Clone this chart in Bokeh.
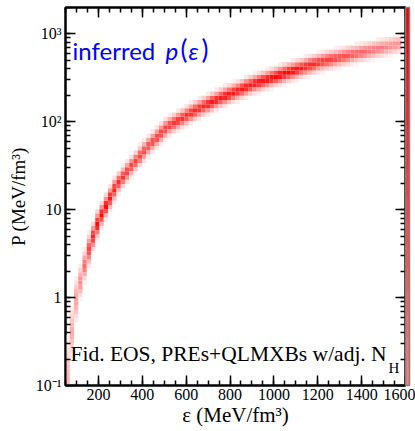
import numpy as np
from bokeh.plotting import figure
from bokeh.models import (FixedTicker, LogTicker, LinearAxis, LogAxis, Label,
                          ColorBar, LinearColorMapper, ColumnDataSource, CustomJSTickFormatter)
from bokeh.embed import file_html
from bokeh.resources import INLINE

# ---- data ----
# centre of the inferred band: energy density (MeV/fm^3) -> log10 P (MeV/fm^3)
band_eps = [55, 73, 100, 130, 164, 202, 240, 285, 346, 422, 513, 635, 756, 907, 1060, 1212, 1363, 1545, 1600]
band_logp = [-1.05, -0.5, 0.0, 0.3, 0.61, 0.88, 1.07, 1.29, 1.48, 1.71, 1.94, 2.12, 2.27, 2.43, 2.56, 2.68, 2.77, 2.87, 2.90]
# relative darkness of the band ridge along the curve
peak_eps = [55, 95, 126, 164, 202, 240, 285, 346, 422, 513, 635, 725, 800, 907, 1060, 1212, 1363, 1545, 1580]
peak_val = [0.30, 0.35, 0.50, 0.80, 1.00, 0.95, 0.85, 0.75, 0.72, 0.78, 0.85, 0.90, 0.92, 0.92, 1.00, 0.80, 0.65, 0.45, 0.40]
band_width_logp = 0.055    # vertical half width of the band (decades)
band_width_eps = 8.0       # horizontal half width of the band (MeV/fm^3)
x_ticks = [200, 400, 600, 800, 1000, 1200, 1400, 1600]
y_tick_labels = {0.1: "10⁻¹", 1: "1", 10: "10", 100: "10²", 1000: "10³"}

# ---- histogram grid ----
x_edges = np.linspace(50, 1600, 81)
y_edges = np.linspace(-1.0, 3.3, 91)
xl, xr, yb, yt, cols = [], [], [], [], []
for i in range(len(x_edges) - 1):
    xc = 0.5 * (x_edges[i] + x_edges[i + 1])
    if xc > 1580:
        continue
    c = np.interp(xc, band_eps, band_logp)
    slope = (np.interp(xc + 5, band_eps, band_logp) - np.interp(xc - 5, band_eps, band_logp)) / 10.0
    sig = np.hypot(band_width_logp, slope * band_width_eps)
    pk = np.interp(xc, peak_eps, peak_val)
    for j in range(len(y_edges) - 1):
        yc = 0.5 * (y_edges[j] + y_edges[j + 1])
        t = pk * np.exp(-0.5 * ((yc - c) / sig) ** 2)
        if t < 0.05:
            continue
        g = int(round(255 * (1 - t)))
        xl.append(x_edges[i]); xr.append(x_edges[i + 1])
        yb.append(10 ** y_edges[j]); yt.append(10 ** y_edges[j + 1])
        cols.append("#ff%02x%02x" % (g, g))

src = ColumnDataSource(dict(left=xl, right=xr, bottom=yb, top=yt, color=cols))

p = figure(frame_width=340, frame_height=378, x_range=(50, 1600), y_range=(0.1, 2000),
           y_axis_type="log", output_backend="svg", toolbar_location=None,
           min_border_left=65, min_border_right=10, min_border_top=7, min_border_bottom=46)
p.quad(left="left", right="right", bottom="bottom", top="top", fill_color="color",
       line_color=None, source=src)

p.grid.visible = False
p.outline_line_color = "black"
p.outline_line_width = 2
p.background_fill_color = "white"
p.border_fill_color = "white"

xt = FixedTicker(ticks=x_ticks, minor_ticks=list(range(50, 1601, 50)))
yt_ = LogTicker(num_minor_ticks=10)
blank = CustomJSTickFormatter(code="return '';")

def style(ax):
    ax.axis_line_color = "black"
    ax.axis_line_width = 2
    ax.major_tick_in = 10
    ax.major_tick_out = 0
    ax.minor_tick_in = 5
    ax.minor_tick_out = 0
    ax.major_tick_line_width = 1.5
    ax.minor_tick_line_width = 1.5
    ax.major_label_text_font = "Liberation Serif"
    ax.major_label_text_font_size = "16px"
    ax.major_label_text_color = "black"
    ax.axis_label_text_font = "Liberation Serif"
    ax.axis_label_text_font_style = "normal"
    ax.axis_label_text_color = "black"

xa = p.xaxis[0]
xa.ticker = xt
style(xa)
xa.major_label_standoff = 3
xa.axis_label = "ε (MeV/fm³)"
xa.axis_label_text_font_size = "21px"
xa.axis_label_standoff = 0

ya = p.yaxis[0]
ya.ticker = yt_
style(ya)
ya.major_label_overrides = y_tick_labels
ya.major_label_standoff = 4
ya.axis_label = "P (MeV/fm³)"
ya.axis_label_text_font_size = "19px"
ya.axis_label_standoff = 4

top = LinearAxis(ticker=xt, formatter=blank)
style(top)
top.major_label_standoff = 0
p.add_layout(top, "above")
right = LogAxis(ticker=yt_, formatter=blank)
style(right)
right.major_label_standoff = 0
p.add_layout(right, "right")

mapper = LinearColorMapper(palette=["#ff%02x%02x" % (v, v) for v in range(120, -1, -8)], low=0, high=1)
cb = ColorBar(color_mapper=mapper, width=4, padding=0, margin=4,
              ticker=FixedTicker(ticks=[]), bar_line_color="gray", bar_line_width=1.5,
              major_tick_line_color=None, minor_tick_line_color=None,
              border_line_color=None, background_fill_alpha=0)
p.add_layout(cb, "right")

# annotations
parts = [("inferred", "normal", 72, 24), ("p", "italic", 165, 24), ("(", "normal", 180, 26),
         ("ε", "italic", 188, 24), (")", "normal", 201, 26)]
for txt, st, xx, fs in parts:
    p.add_layout(Label(x=xx - 65, y=385 - 64, x_units="screen", y_units="screen", text=txt,
                       text_font="Lato", text_font_style=st, text_font_size="%dpx" % fs,
                       text_color="#0000ff"))
p.add_layout(Label(x=70 - 65, y=385 - 365, x_units="screen", y_units="screen",
                   text="Fid. EOS, PREs+QLMXBs w/adj. N", text_font="Liberation Serif",
                   text_font_size="21.5px", text_color="black"))
p.add_layout(Label(x=388 - 65, y=385 - 375, x_units="screen", y_units="screen",
                   text="H", text_font="Liberation Serif",
                   text_font_size="15px", text_color="black"))

open("out.html", "w").write(file_html(p, INLINE))
